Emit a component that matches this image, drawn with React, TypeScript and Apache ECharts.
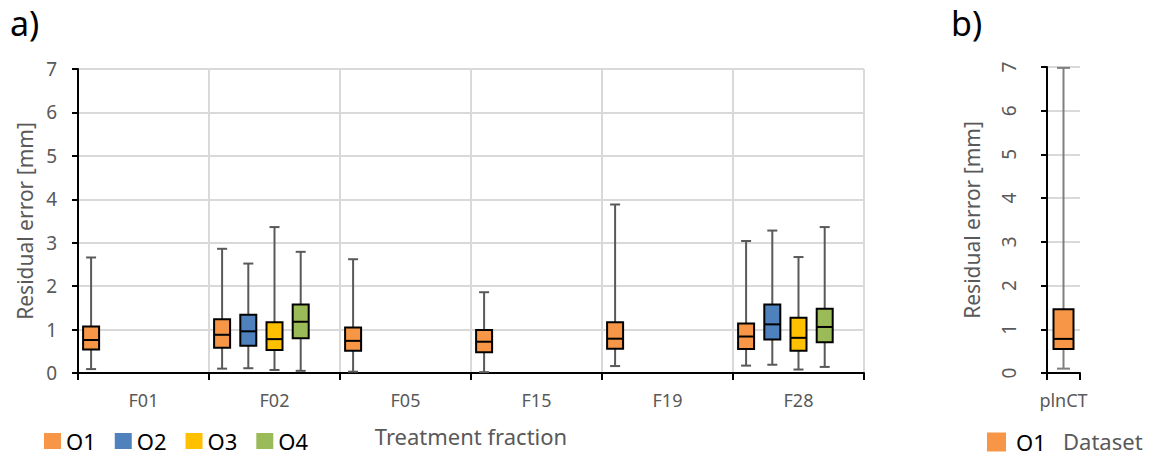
import React, { useEffect, useRef } from "react";
import * as echarts from "echarts";

// ---- data ----
const categories = ["F01", "F02", "F05", "F15", "F19", "F28"];
const seriesNames = ["O1", "O2", "O3", "O4"];
// each entry: [low, q1, median, q3, high] per category (null = no data)
const o1Stats = [
  [0.09, 0.54, 0.76, 1.07, 2.66],
  [0.1, 0.58, 0.88, 1.24, 2.86],
  [0.03, 0.51, 0.74, 1.05, 2.62],
  [0.02, 0.48, 0.72, 0.99, 1.86],
  [0.16, 0.56, 0.79, 1.17, 3.88],
  [0.17, 0.55, 0.84, 1.14, 3.04],
];
const o2Stats = [null, [0.11, 0.63, 0.96, 1.34, 2.52], null, null, null, [0.19, 0.77, 1.12, 1.58, 3.28]];
const o3Stats = [null, [0.07, 0.53, 0.78, 1.17, 3.36], null, null, null, [0.08, 0.51, 0.81, 1.27, 2.67]];
const o4Stats = [null, [0.05, 0.8, 1.18, 1.58, 2.79], null, null, null, [0.14, 0.71, 1.06, 1.48, 3.36]];
const datasetCategories = ["plnCT"];
const plnctStats = [[0.1, 0.55, 0.78, 1.46, 6.98]];
const yTicks = { min: 0, max: 7, interval: 1 };

const colors: Record<string, string> = {
  O1: "#F79646",
  O2: "#4F81BD",
  O3: "#FFC000",
  O4: "#9BBB59",
};

const GRAY_TEXT = "#595959";
const GRID_GRAY = "#D9D9D9";
const FONT = "Noto Sans";

function toItems(stats: (number[] | null)[]) {
  const out: number[][] = [];
  stats.forEach((s, i) => {
    if (s) out.push([i, ...s]);
  });
  return out;
}

function makeRender(slot: number, slots: number, boxW: number, capW: number, wColor: string, wWidth: number) {
  return (params: any, api: any) => {
    const ci = api.value(0);
    const band = api.size([1, 0])[0];
    const center = api.coord([ci, 0])[0];
    const x = slots > 0 ? center - band / 2 + ((slot + 0.5) * band) / slots : center;
    const y = (d: number) => api.coord([ci, api.value(d)])[1];
    const yLow = y(1), yQ1 = y(2), yMed = y(3), yQ3 = y(4), yHigh = y(5);
    const color = api.visual("color");
    const wl = { stroke: wColor, lineWidth: wWidth };
    return {
      type: "group",
      children: [
        { type: "line", shape: { x1: x, y1: yHigh, x2: x, y2: yQ3 }, style: wl },
        { type: "line", shape: { x1: x, y1: yQ1, x2: x, y2: yLow }, style: wl },
        { type: "line", shape: { x1: x - capW / 2, y1: yHigh, x2: x + capW / 2, y2: yHigh }, style: wl },
        { type: "line", shape: { x1: x - capW / 2, y1: yLow, x2: x + capW / 2, y2: yLow }, style: wl },
        {
          type: "rect",
          shape: { x: x - boxW / 2, y: yQ3, width: boxW, height: yQ1 - yQ3 },
          style: { fill: color, stroke: "#000", lineWidth: 2 },
        },
        {
          type: "line",
          shape: { x1: x - boxW / 2, y1: yMed, x2: x + boxW / 2, y2: yMed },
          style: { stroke: "#000", lineWidth: 2 },
        },
      ],
    };
  };
}

const axisLineStyle = { color: "#000", width: 2 };
const legendText = { fontSize: 22, color: "#000", fontFamily: FONT };

export default function App() {
  const ref = useRef<HTMLDivElement>(null);
  useEffect(() => {
    if (!ref.current) return;
    const chart = echarts.init(ref.current, null, { renderer: "svg" });
    const allStats = [o1Stats, o2Stats, o3Stats, o4Stats];
    const seriesA = seriesNames.map((name, i) => ({
      name,
      type: "custom",
      xAxisIndex: 0,
      yAxisIndex: 0,
      itemStyle: { color: colors[name] },
      encode: { x: 0, y: [1, 2, 3, 4, 5] },
      renderItem: makeRender(i, 5, 16, 10, "#595959", 2),
      data: toItems(allStats[i]),
      clip: false,
    }));
    const seriesB = {
      name: "O1",
      type: "custom",
      xAxisIndex: 1,
      yAxisIndex: 1,
      itemStyle: { color: colors.O1 },
      encode: { x: 0, y: [1, 2, 3, 4, 5] },
      renderItem: makeRender(0, 0, 20, 13, "#7F7F7F", 2),
      data: toItems(plnctStats),
      clip: false,
    };
    const option: any = {
      animation: false,
      textStyle: { fontFamily: FONT },
      grid: [
        { left: 78, top: 69, width: 786, height: 304 },
        { left: 1047, top: 67, width: 33, height: 306 },
      ],
      xAxis: [
        {
          gridIndex: 0,
          type: "category",
          data: categories,
          boundaryGap: true,
          axisLine: { lineStyle: axisLineStyle },
          axisTick: { show: true, length: 7, lineStyle: axisLineStyle },
          axisLabel: { fontSize: 18, color: GRAY_TEXT, margin: 18, fontFamily: FONT },
          splitLine: { show: true, lineStyle: { color: GRID_GRAY, width: 2 } },
          name: "Treatment fraction",
          nameLocation: "middle",
          nameGap: 52,
          nameTextStyle: { fontSize: 22, color: GRAY_TEXT, fontFamily: FONT },
        },
        {
          gridIndex: 1,
          type: "category",
          data: datasetCategories,
          boundaryGap: true,
          axisLine: { lineStyle: axisLineStyle },
          axisTick: { show: true, length: 7, lineStyle: axisLineStyle },
          axisLabel: { fontSize: 18, color: GRAY_TEXT, margin: 18, fontFamily: FONT },
          splitLine: { show: false },
        },
      ],
      yAxis: [
        {
          gridIndex: 0,
          type: "value",
          min: yTicks.min,
          max: yTicks.max,
          interval: yTicks.interval,
          axisLine: { show: true, lineStyle: axisLineStyle },
          axisTick: { show: true, length: 6, lineStyle: axisLineStyle },
          axisLabel: { fontSize: 19, color: GRAY_TEXT, margin: 21, fontFamily: FONT },
          splitLine: { show: true, lineStyle: { color: GRID_GRAY, width: 2 } },
          name: "Residual error [mm]",
          nameLocation: "middle",
          nameGap: 42,
          nameTextStyle: { fontSize: 21, color: GRAY_TEXT, fontFamily: FONT },
        },
        {
          gridIndex: 1,
          type: "value",
          min: yTicks.min,
          max: yTicks.max,
          interval: yTicks.interval,
          axisLine: { show: true, lineStyle: axisLineStyle },
          axisTick: { show: true, length: 6, lineStyle: axisLineStyle },
          axisLabel: { fontSize: 19, color: GRAY_TEXT, margin: 29, rotate: 90, fontFamily: FONT },
          splitLine: { show: true, lineStyle: { color: GRID_GRAY, width: 2 } },
          name: "Residual error [mm]",
          nameLocation: "middle",
          nameGap: 65,
          nameTextStyle: { fontSize: 21, color: GRAY_TEXT, fontFamily: FONT },
        },
      ],
      legend: [
        {
          left: 44,
          top: 430,
          padding: 0,
          itemWidth: 17,
          itemHeight: 16,
          itemGap: 19,
          icon: "rect",
          selectedMode: false,
          data: seriesNames.map((n) => ({
            name: n,
            itemStyle: { color: colors[n], borderWidth: 0 },
            textStyle: legendText,
          })),
          textStyle: legendText,
        },
        {
          left: 987,
          top: 431,
          padding: 0,
          itemWidth: 19,
          itemHeight: 19,
          icon: "rect",
          selectedMode: false,
          data: [
            {
              name: "O1",
              itemStyle: { color: colors.O1, borderWidth: 0 },
              textStyle: { ...legendText, padding: [0, 0, 0, 5] },
            },
          ],
          textStyle: { ...legendText, padding: [0, 0, 0, 5] },
        },
      ],
      graphic: [
        {
          type: "text",
          left: 10,
          top: 6,
          style: { text: "a)", fontSize: 34, fill: "#000", fontFamily: FONT },
        },
        {
          type: "text",
          left: 951,
          top: 6,
          style: { text: "b)", fontSize: 34, fill: "#000", fontFamily: FONT },
        },
        {
          type: "text",
          left: 1063,
          top: 430,
          style: { text: "Dataset", fontSize: 22, fill: GRAY_TEXT, fontFamily: FONT },
        },
      ],
      series: [...seriesA, seriesB],
    };
    chart.setOption(option);
    return () => chart.dispose();
  }, []);
  return (
    <div
      ref={ref}
      style={{ position: "absolute", left: 0, top: 0, width: 1156, height: 456 }}
    />
  );
}
